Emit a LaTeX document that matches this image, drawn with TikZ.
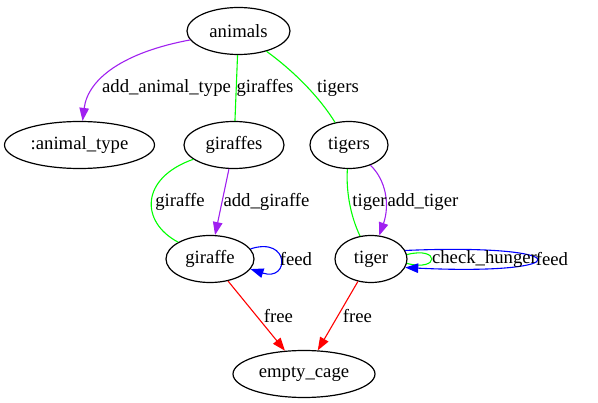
\documentclass[tikz,border=0pt]{standalone}
\usepackage{fontspec}
\setmainfont{Liberation Serif}
\usepackage{tikz}
\usetikzlibrary{shapes.geometric,arrows.meta}

\definecolor{gvpurple}{RGB}{160,32,240}
\definecolor{gvgreen}{RGB}{0,255,0}
\definecolor{gvblue}{RGB}{0,0,255}
\definecolor{gvred}{RGB}{255,0,0}

\tikzset{
  state/.style={ellipse, draw, line width=1.2pt, inner sep=0pt, minimum height=47pt,
    font=\fontsize{18.7pt}{22pt}\selectfont},
  lbl/.style={inner sep=0pt, font=\fontsize{18.7pt}{22pt}\selectfont},
  edgeline/.style={line width=1.1pt},
  gvarrow/.style={-{Triangle[length=13pt,width=9.5pt]}},
}

\begin{document}
\begin{tikzpicture}[x=1pt,y=1pt,yscale=-1,xscale=1]
\useasboundingbox (0,0) rectangle (598,403);

% States
\node[state, minimum width=103pt] (animals) at (238.5,31) {animals};
\node[state, minimum width=150pt] (animaltype) at (79.5,145) {:animal\_type};
\node[state, minimum width=100pt] (giraffes) at (234,145) {giraffes};
\node[state, minimum width=78pt] (tigers) at (349,145) {tigers};
\node[state, minimum width=88pt] (giraffe) at (210,259) {giraffe};
\node[state, minimum width=72pt] (tiger) at (371,259) {tiger};
\node[state, minimum width=142pt] (emptycage) at (304,374) {empty\_cage};

% Transitions
\draw[edgeline, gvpurple, gvarrow] (animals) .. controls (125,52) and (88,78) .. (animaltype);
\draw[edgeline, gvgreen] (animals) -- (giraffes);
\draw[edgeline, gvgreen] (animals) .. controls (295,72) and (320,98) .. (tigers);
\draw[edgeline, gvgreen] (giraffes) .. controls (140,178) and (140,222) .. (giraffe);
\draw[edgeline, gvpurple, gvarrow] (giraffes) -- (giraffe);
\draw[edgeline, gvgreen] (tigers) .. controls (346,190) and (350,215) .. (tiger);
\draw[edgeline, gvpurple, gvarrow] (tigers) .. controls (386,180) and (390,205) .. (tiger);
\draw[edgeline, gvblue, gvarrow] (giraffe.14) .. controls (290,236) and (290,282) .. (giraffe.-14);
\draw[edgeline, gvgreen] (tiger.7) .. controls (440,246) and (440,272) .. (tiger.-7);
\draw[edgeline, gvblue, gvarrow] (tiger.14) .. controls (580,243) and (580,276) .. (tiger.-14);
\draw[edgeline, gvred, gvarrow] (giraffe) -- (emptycage);
\draw[edgeline, gvred, gvarrow] (tiger) -- (emptycage);

% Labels
\node[lbl] (l_addtype) at (166.5,88) {add\_animal\_type};
\node[lbl] (l_giraffes) at (265,88) {giraffes};
\node[lbl] (l_tigers) at (338,88) {tigers};
\node[lbl] (l_giraffe) at (180,202) {giraffe};
\node[lbl] (l_addgiraffe) at (266.5,202) {add\_giraffe};
\node[lbl] (l_tiger) at (369.5,202) {tiger};
\node[lbl] (l_addtiger) at (423,202) {add\_tiger};
\node[lbl] (l_feedg) at (296,259) {feed};
\node[lbl] (l_check) at (484.5,259) {check\_hunger};
\node[lbl] (l_feedt) at (552,259) {feed};
\node[lbl] (l_freeg) at (278.5,316) {free};
\node[lbl] (l_freet) at (357.5,316) {free};

\end{tikzpicture}
\end{document}
